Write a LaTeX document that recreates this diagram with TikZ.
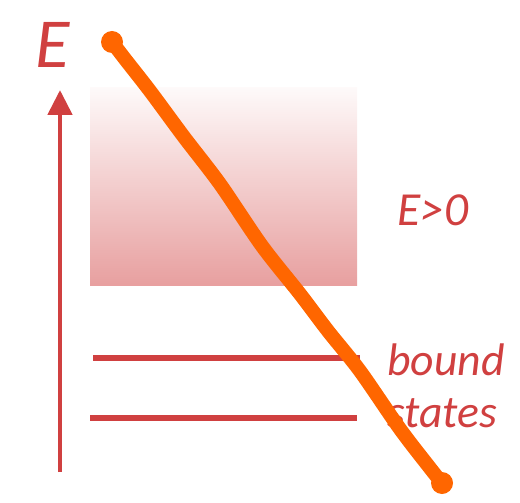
\documentclass[tikz,border=0pt]{standalone}
\usepackage{fontspec}
\setmainfont{Carlito}
\usepackage{tikz}
\usetikzlibrary{arrows.meta,positioning}
\definecolor{levelred}{RGB}{208,64,64}
\definecolor{strokeorange}{RGB}{255,102,0}

\begin{document}
\begin{tikzpicture}[x=0.02cm, y=-0.02cm,
    txt/.style={text=levelred, inner sep=0pt, font=\fontsize{26}{30}\selectfont\itshape},
    level/.style={draw=levelred, line width=3pt},
    axis/.style={-{Triangle[length=0.5cm,width=0.48cm]}, draw=levelred, line width=2.8pt}
]
    \useasboundingbox (0,0) rectangle (520,503);

    % energy axis
    \coordinate (axisbot) at (60,472);
    \coordinate (axistop) at (60,90);
    \draw[axis] (axisbot) -- (axistop);
    \node[txt, font=\fontsize{40}{44}\selectfont\itshape, anchor=base] (elabel) at (53,68) {E};

    % continuum
    \shade[top color=levelred!3, bottom color=levelred!50] (90,88) rectangle (357,285);
    \node[txt, font=\fontsize{27}{30}\selectfont\itshape, anchor=base west] (cont) at (397,225) {E>0};

    % bound levels
    \draw[level] (93,358) -- (360,358);
    \draw[level] (90,418) -- (357,418);
    \node[txt, anchor=base west] (bound) at (387,375) {bound};
    \node[txt, anchor=base west] (states) at (387,427) {states};

    % crossed out
    \draw[strokeorange, line width=8pt, line cap=round, line join=round]
        plot[smooth] coordinates {(112,42) (125,59) (150,91) (184,137) (220,184)
            (262,246) (300,294) (328,331) (360,371) (400,429) (430,468) (442,483)};
    \fill[strokeorange] (112,42) circle (11);
    \fill[strokeorange] (442,483) circle (11);
\end{tikzpicture}
\end{document}
